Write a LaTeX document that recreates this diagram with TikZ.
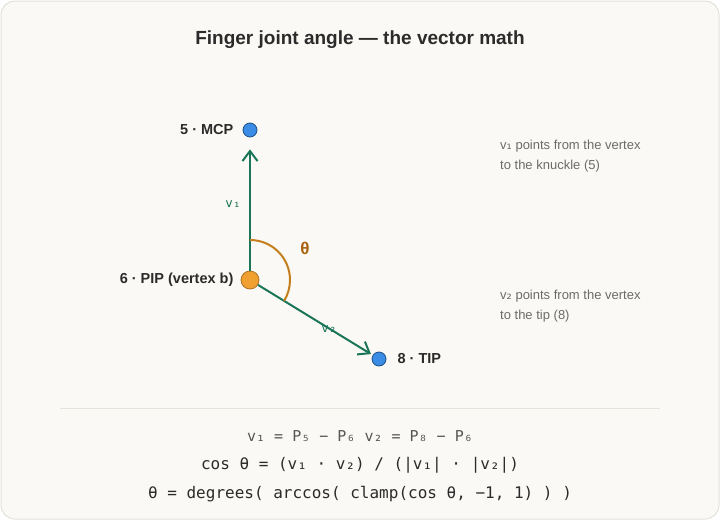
\documentclass[tikz,border=0pt]{standalone}
\usepackage{fontspec}
\setmainfont{Liberation Sans}
\newfontfamily\monofont{DejaVu Sans Mono}
\newfontfamily\subfont{DejaVu Sans}
\usetikzlibrary{arrows.meta}
\usetikzlibrary{positioning}

\definecolor{bgcream}{HTML}{FAF9F5}
\definecolor{framegray}{HTML}{E4E1DB}
\definecolor{sepgray}{HTML}{E6E3DD}
\definecolor{textdark}{HTML}{2B2B2B}
\definecolor{notegray}{HTML}{6B6B6B}
\definecolor{vecgreen}{HTML}{1B7558}
\definecolor{bluefill}{HTML}{3A8CE4}
\definecolor{blueedge}{HTML}{1F4F86}
\definecolor{orangefill}{HTML}{F0A030}
\definecolor{orangeedge}{HTML}{B07020}
\definecolor{arcbrown}{HTML}{C47F1C}
\definecolor{thetabrown}{HTML}{A8620E}
\definecolor{formgray}{HTML}{555555}

\begin{document}
\begin{tikzpicture}[x=1pt, y=-1pt,
  joint/.style={circle, draw=blueedge, fill=bluefill, line width=0.8pt, minimum size=14pt, inner sep=0pt},
  vertex/.style={circle, draw=orangeedge, fill=orangefill, line width=0.8pt, minimum size=18pt, inner sep=0pt},
  vec/.style={draw=vecgreen, line width=2pt, -{Straight Barb[length=10pt, width=15pt]}},
  ptlabel/.style={font=\fontsize{14.5}{17}\selectfont\bfseries, text=textdark, inner sep=0pt},
  veclabel/.style={font=\monofont\fontsize{12.5}{14}\selectfont, text=vecgreen, inner sep=0pt},
  note/.style={font=\fontsize{13}{20}\selectfont, text=notegray, align=left, anchor=west, inner sep=0pt},
  formula/.style={font=\monofont\fontsize{16}{18}\selectfont, text=textdark, inner sep=0pt}
]

%% Frame %%
\useasboundingbox (0,0) rectangle (720,520);
\draw[draw=framegray, fill=bgcream, line width=1pt, rounded corners=14pt] (1,1) rectangle (719,519);

\node[font=\fontsize{19}{22}\selectfont\bfseries, text=textdark] (title) at (360,40) {Finger joint angle — the vector math};

%% Landmarks %%
\node[joint] (mcp) at (250,130) {};
\node[vertex] (pip) at (250,280) {};
\node[joint] (tip) at (379,359) {};

%% Vectors %%
\draw[vec, shorten >=12pt] (pip) -- (mcp);
\draw[vec, shorten >=2pt] (pip) -- (tip);

% angle arc %
\draw[arcbrown, line width=2pt] (pip.center) ++(-90:40) arc[start angle=-90, end angle=31.5, radius=40];
\node[font=\fontsize{17}{19}\selectfont\bfseries, text=thetabrown] (theta) at (305,248) {θ};

\node[veclabel] (vone) at (233,204) {v₁};
\node[veclabel] (vtwo) at (329,329) {v₂};

%% Labels %%
\node[ptlabel, left=9pt of mcp] (mcplbl) {5 · MCP};
\node[ptlabel, left=7pt of pip] (piplbl) {6 · PIP (vertex b)};
\node[ptlabel, right=11pt of tip] (tiplbl) {8 · TIP};

% notes %
\node[note] (noteone) at (500,156) {v{\subfont ₁} points from the vertex\\to the knuckle (5)};
\node[note] (notetwo) at (500,306) {v{\subfont ₂} points from the vertex\\to the tip (8)};

%% Formulas %%
\draw[sepgray, line width=1pt] (60,408) -- (660,408);
\node[formula, text=formgray, font=\monofont\fontsize{15}{18}\selectfont] (eqone) at (360,436) {v₁ = P₅ − P₆ v₂ = P₈ − P₆};
\node[formula] (eqtwo) at (360,465) {cos θ = (v₁ · v₂) / (|v₁| · |v₂|)};
\node[formula] (eqthree) at (360,494) {θ = degrees( arccos( clamp(cos θ, −1, 1) ) )};

\end{tikzpicture}
\end{document}
